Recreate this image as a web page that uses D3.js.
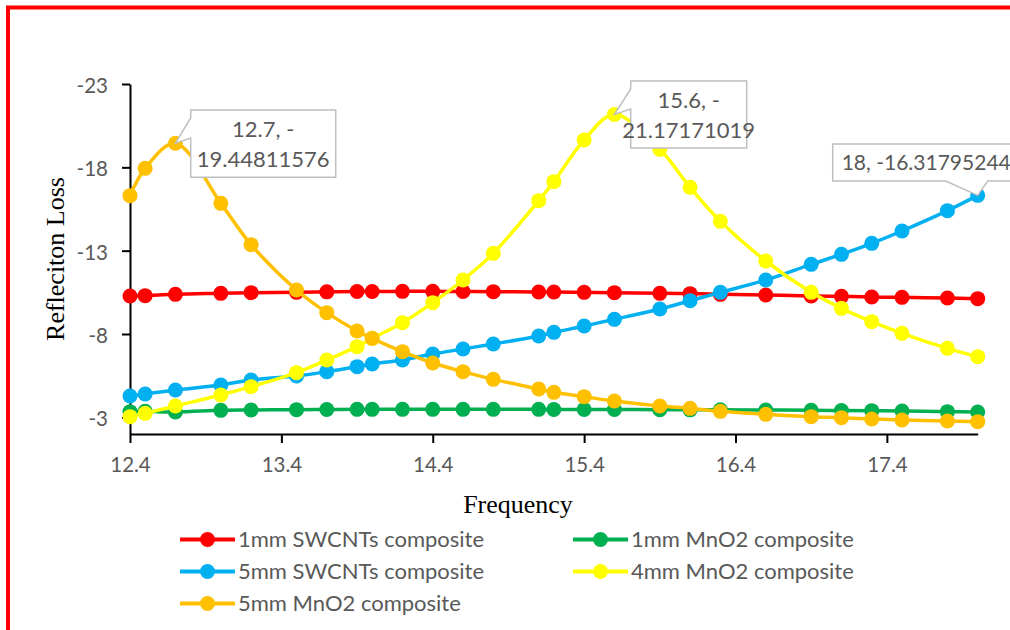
<!DOCTYPE html>
<html>
<head>
<meta charset="utf-8">
<script src="https://cdn.jsdelivr.net/npm/d3@7"></script>
<style>
  html, body { margin: 0; padding: 0; background: #fff; }
  svg { display: block; }
</style>
</head>
<body>
<svg id="chart" width="1010" height="630"></svg>
<script>
// Frequency points (GHz)
const frequency = [12.4, 12.5, 12.7, 13.0, 13.2, 13.5, 13.7, 13.9, 14.0, 14.2, 14.4, 14.6, 14.8,
  15.1, 15.2, 15.4, 15.6, 15.9, 16.1, 16.3, 16.6, 16.9, 17.1, 17.3, 17.5, 17.8, 18.0];

// Reflection loss (dB) per sample
const swcnt1mm = [-10.28, -10.30, -10.38, -10.44, -10.48, -10.50, -10.53, -10.55, -10.55, -10.56, -10.56, -10.55, -10.54,
  -10.52, -10.52, -10.50, -10.48, -10.44, -10.42, -10.38, -10.34, -10.28, -10.26, -10.22, -10.20, -10.16, -10.12];
const mno2_1mm = [-3.34, -3.36, -3.32, -3.42, -3.44, -3.46, -3.47, -3.48, -3.48, -3.48, -3.48, -3.48, -3.48,
  -3.48, -3.47, -3.47, -3.47, -3.46, -3.45, -3.45, -3.44, -3.42, -3.41, -3.40, -3.38, -3.34, -3.32];
const swcnt5mm = [-4.28, -4.40, -4.64, -4.94, -5.24, -5.48, -5.74, -6.04, -6.20, -6.44, -6.80, -7.10, -7.40,
  -7.88, -8.10, -8.48, -8.88, -9.50, -10.00, -10.50, -11.24, -12.18, -12.78, -13.44, -14.18, -15.40, -16.31795244];
const mno2_4mm = [-3.04, -3.24, -3.68, -4.34, -4.84, -5.68, -6.44, -7.24, -7.74, -8.68, -9.88, -11.24, -12.84,
  -16.00, -17.14, -19.64, -21.17171019, -19.08, -16.80, -14.76, -12.38, -10.50, -9.54, -8.74, -8.04, -7.14, -6.64];
const mno2_5mm = [-16.30, -17.94, -19.44811576, -15.84, -13.36, -10.64, -9.28, -8.18, -7.74, -6.94, -6.26, -5.74, -5.28,
  -4.70, -4.50, -4.24, -3.98, -3.68, -3.54, -3.36, -3.18, -3.04, -2.98, -2.90, -2.84, -2.78, -2.74];

const seriesNames = ["1mm SWCNTs composite", "1mm MnO2 composite", "5mm SWCNTs composite",
  "4mm MnO2 composite", "5mm MnO2 composite"];
const seriesColors = ["#FF0000", "#00B050", "#00B0F0", "#FFFF00", "#FFC000"];
const seriesValues = [swcnt1mm, mno2_1mm, swcnt5mm, mno2_4mm, mno2_5mm];

const xTicks = [12.4, 13.4, 14.4, 15.4, 16.4, 17.4];
const yTicks = [-23, -18, -13, -8, -3];

// Callouts: [series index, point index, text lines]
const callouts = [
  { s: 4, i: 2, lines: ["12.7, -", "19.44811576"] },
  { s: 3, i: 16, lines: ["15.6, -", "21.17171019"] },
  { s: 2, i: 26, lines: ["18, -16.31795244"] }
];

const svg = d3.select("#chart");
const labelFont = "Lato, 'Open Sans', sans-serif";
const textGray = "#595959";

// Outer frame
svg.append("rect")
  .attr("x", 8).attr("y", 7.5).attr("width", 1100).attr("height", 700)
  .attr("fill", "none").attr("stroke", "#FF0000").attr("stroke-width", 4);

const x = d3.scaleLinear().domain([12.4, 18]).range([130, 977.7]);
const y = d3.scaleLinear().domain([-2, -23]).range([434, 84]);

// Axes
const xAxis = svg.append("g").attr("transform", `translate(0,${y(-2)})`)
  .call(d3.axisBottom(x).tickValues(xTicks).tickFormat(d3.format(".1f")).tickSize(9).tickSizeOuter(0).tickPadding(14));
const yAxis = svg.append("g").attr("transform", `translate(${x(12.4)},0)`)
  .call(d3.axisLeft(y).tickValues(yTicks).tickFormat(d => d).tickSize(8).tickSizeOuter(0).tickPadding(14));

[xAxis, yAxis].forEach(g => {
  g.select(".domain").attr("stroke", "#000").attr("stroke-width", 2);
  g.selectAll(".tick line").attr("stroke", "#000").attr("stroke-width", 2);
  g.selectAll(".tick text").attr("fill", textGray).style("font-family", labelFont).style("font-size", "20.5px");
});
yAxis.selectAll(".tick text").attr("dy", "0.42em");

// Axis titles
svg.append("text")
  .attr("transform", `translate(64,${(y(-23) + y(-2)) / 2}) rotate(-90)`)
  .attr("text-anchor", "middle")
  .style("font-family", "'Liberation Serif', 'Times New Roman', serif")
  .style("font-size", "26px").attr("fill", "#000")
  .text("Refleciton Loss");

svg.append("text")
  .attr("x", 518).attr("y", 513)
  .attr("text-anchor", "middle")
  .style("font-family", "'Liberation Serif', 'Times New Roman', serif")
  .style("font-size", "26px").attr("fill", "#000")
  .text("Frequency");

// Series
const line = d3.line()
  .x((d, i) => x(frequency[i]))
  .y(d => y(d))
  .curve(d3.curveCatmullRom.alpha(0.5));

seriesValues.forEach((vals, s) => {
  const g = svg.append("g");
  g.append("path").attr("d", line(vals))
    .attr("fill", "none").attr("stroke", seriesColors[s]).attr("stroke-width", 3.5)
    .attr("stroke-linejoin", "round").attr("stroke-linecap", "round");
  g.selectAll("circle").data(vals).join("circle")
    .attr("cx", (d, i) => x(frequency[i]))
    .attr("cy", d => y(d))
    .attr("r", 7.5)
    .attr("fill", seriesColors[s]);
});

// Data callouts
const callStyle = [
  { dx: 15.3, dy: -33.2, w: 145, h: 67.3, side: "left", size: 22 },
  { dx: 16.3, dy: -33.5, w: 116, h: 67, side: "left", size: 22 },
  { dx: -145, dy: -51.4, w: 210, h: 37, side: "bottom", size: 21 }
];
callouts.forEach((c, k) => {
  const px = x(frequency[c.i]), py = y(seriesValues[c.s][c.i]);
  const st = callStyle[k];
  const L = px + st.dx, T = py + st.dy, R = L + st.w, B = T + st.h;
  let p;
  if (st.side === "left") {
    p = `M${L},${T}H${R}V${B}H${L}V${T + 28}L${px},${py}L${L},${T + 8}Z`;
  } else {
    p = `M${L},${T}H${R}V${B}H${px + 10}L${px},${py}L${px - 32},${B}H${L}Z`;
  }
  svg.append("path").attr("d", p)
    .attr("fill", "#fff").attr("stroke", "#BFBFBF").attr("stroke-width", 1.5);
  const t = svg.append("text")
    .attr("fill", textGray)
    .style("font-family", labelFont).style("font-size", st.size + "px");
  if (c.lines.length === 2) {
    t.attr("text-anchor", "middle");
    c.lines.forEach((ln, j) => {
      t.append("tspan").attr("x", (L + R) / 2).attr("y", T + 27.5 + j * 29.5).text(ln);
    });
  } else {
    t.attr("x", L + 9).attr("y", T + 26).text(c.lines[0]);
  }
});

// Legend
const legendItems = [
  { s: 0, col: 0, row: 0 }, { s: 1, col: 1, row: 0 },
  { s: 2, col: 0, row: 1 }, { s: 3, col: 1, row: 1 },
  { s: 4, col: 0, row: 2 }
];
const colX = [180, 573];
const rowY = [539.5, 571.5, 603.5];
legendItems.forEach(it => {
  const g = svg.append("g").attr("transform", `translate(${colX[it.col]},${rowY[it.row]})`);
  g.append("line").attr("x1", 0).attr("x2", 55).attr("y1", 0).attr("y2", 0)
    .attr("stroke", seriesColors[it.s]).attr("stroke-width", 4);
  g.append("circle").attr("cx", 27.5).attr("cy", 0).attr("r", 7.5).attr("fill", seriesColors[it.s]);
  g.append("text").attr("x", 58).attr("y", 0).attr("dy", "0.36em")
    .attr("fill", textGray).style("font-family", labelFont).style("font-size", "22px")
    .text(seriesNames[it.s]);
});
</script>
</body>
</html>
